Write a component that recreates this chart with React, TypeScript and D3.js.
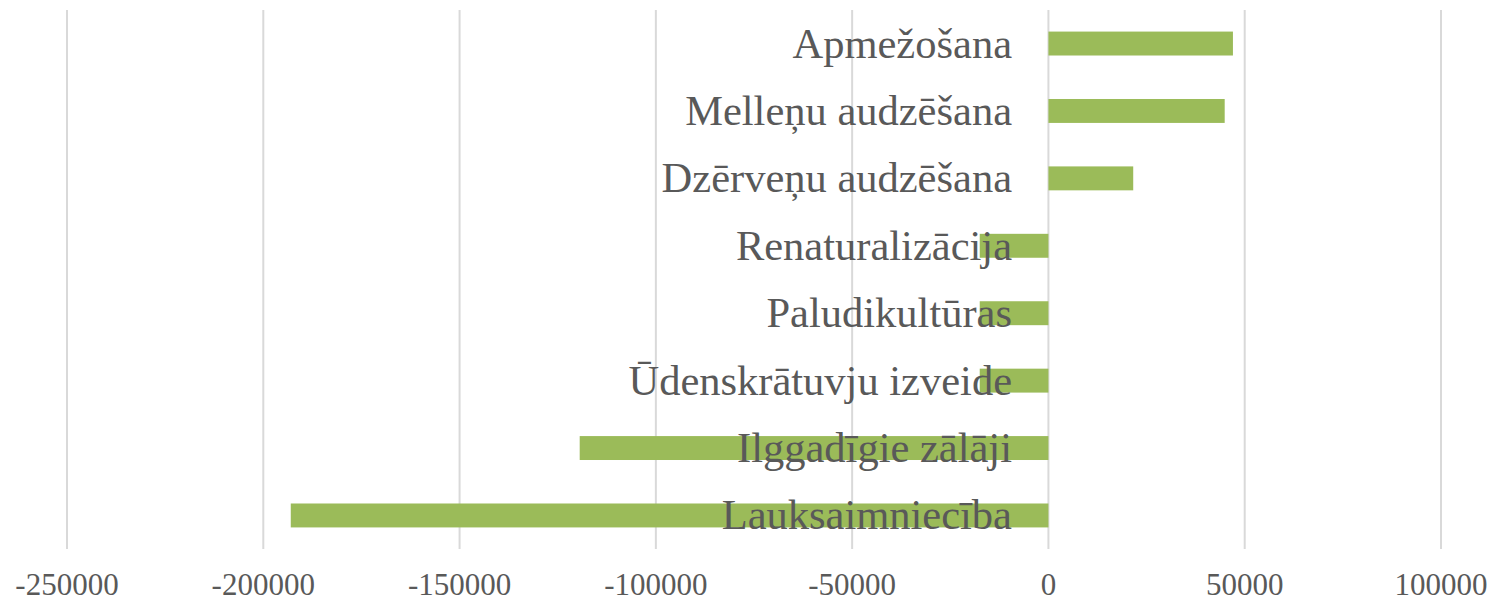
import { useEffect, useRef } from 'react';
import * as d3 from 'd3';

const categories = [
  'Apmežošana',
  'Melleņu audzēšana',
  'Dzērveņu audzēšana',
  'Renaturalizācija',
  'Paludikultūras',
  'Ūdenskrātuvju izveide',
  'Ilggadīgie zālāji',
  'Lauksaimniecība',
];
const values = [47000, 44900, 21600, -17500, -17500, -17500, -119400, -193000];
const ticks = [-250000, -200000, -150000, -100000, -50000, 0, 50000, 100000];

const App = () => {
  const ref = useRef<SVGSVGElement>(null);
  const width = 1498;
  const height = 607;

  useEffect(() => {
    document.body.style.margin = '0';
    const svg = d3.select(ref.current);
    svg.selectAll('*').remove();

    const x = d3.scaleLinear().domain([-250000, 100000]).range([67, 1441]);
    const y = d3.scaleBand().domain(categories).range([10, 549]).paddingInner(0.645).paddingOuter(0.32);

    // gridlines
    svg.append('g')
      .selectAll('line')
      .data(ticks)
      .join('line')
      .attr('x1', d => x(d))
      .attr('x2', d => x(d))
      .attr('y1', 10)
      .attr('y2', 549)
      .attr('stroke', '#d9d9d9')
      .attr('stroke-width', 2);

    // bars
    svg.append('g')
      .selectAll('rect')
      .data(categories)
      .join('rect')
      .attr('x', (d, i) => x(Math.min(0, values[i])))
      .attr('y', d => y(d)!)
      .attr('width', (d, i) => Math.abs(x(values[i]) - x(0)))
      .attr('height', y.bandwidth())
      .attr('fill', '#9bbb59');

    // category labels (drawn over bars)
    svg.append('g')
      .selectAll('text')
      .data(categories)
      .join('text')
      .attr('x', 1012)
      .attr('y', d => y(d)! + y.bandwidth() / 2 + 14)
      .attr('text-anchor', 'end')
      .attr('font-family', '"Liberation Serif", "Times New Roman", serif')
      .attr('font-size', 42.5)
      .attr('fill', '#595959')
      .text(d => d);

    // tick labels
    svg.append('g')
      .selectAll('text')
      .data(ticks)
      .join('text')
      .attr('x', d => x(d))
      .attr('y', 595)
      .attr('text-anchor', 'middle')
      .attr('font-family', '"Liberation Serif", "Times New Roman", serif')
      .attr('font-size', 31)
      .attr('fill', '#595959')
      .text(d => String(d));
  }, []);

  return <svg ref={ref} width={width} height={height} style={{ display: 'block' }} />;
};

export default App;
